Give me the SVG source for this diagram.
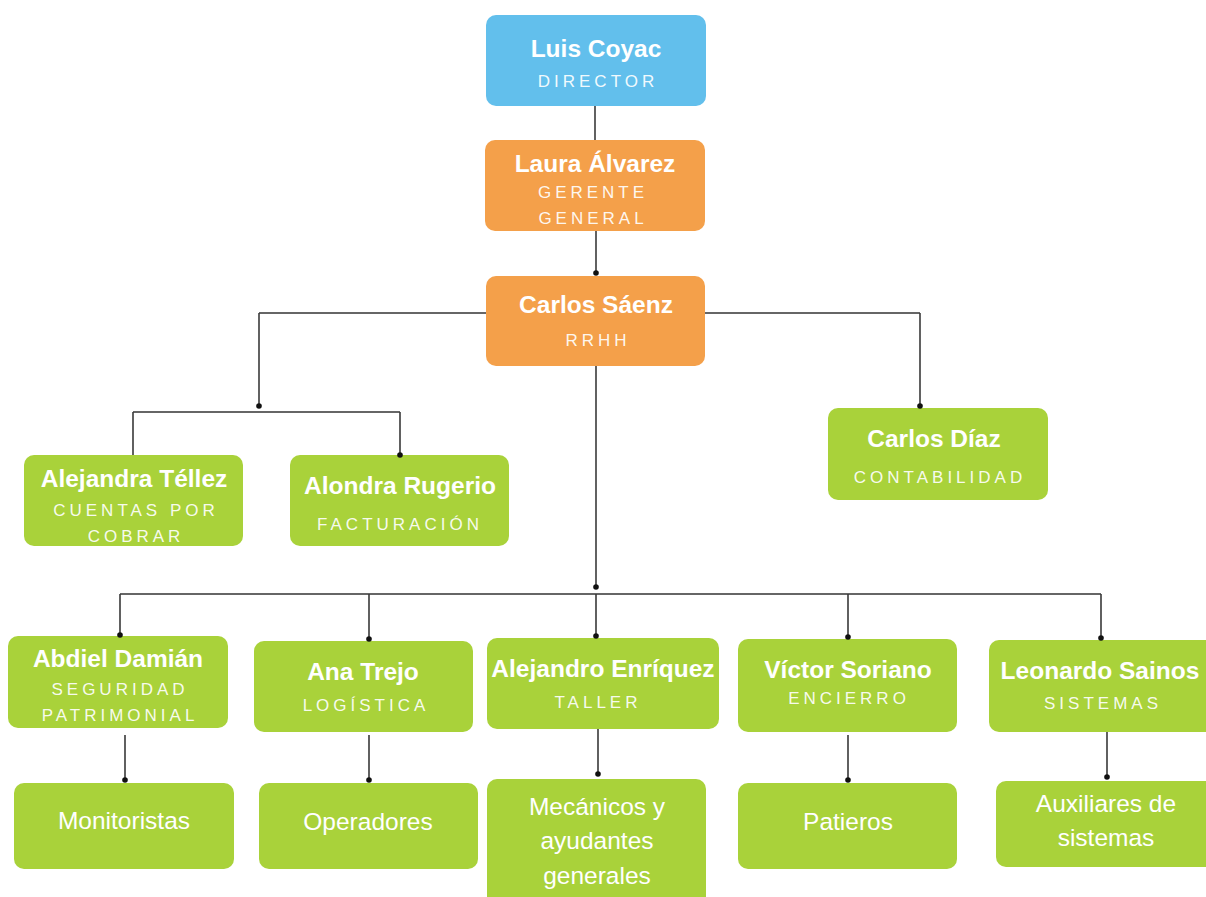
<svg xmlns="http://www.w3.org/2000/svg" width="1206" height="897" viewBox="0 0 1206 897">
<style>
.blue{fill:#62BFEC}
.orange{fill:#F4A04A}
.green{fill:#A9D23A}
.name{font-family:"Liberation Sans",Arial,sans-serif;font-weight:bold;font-size:24.5px;fill:#fff;text-anchor:middle}
.role{font-family:"Liberation Sans",Arial,sans-serif;font-size:17px;letter-spacing:4px;fill:#fff;fill-opacity:.93;text-anchor:middle}
.team{font-family:"Liberation Sans",Arial,sans-serif;font-size:24.5px;fill:#fff;text-anchor:middle}
.ln{fill:none;stroke:#3a3a3a;stroke-width:1.6}
.hl{fill:none;stroke:#666;stroke-width:2}
.dot{fill:#111}
</style>
<rect width="1206" height="897" fill="#fff"/>
<g id="luis">
<rect class="blue" x="486" y="15" width="220" height="91" rx="10"/>
<text class="name" x="596" y="57">Luis Coyac</text>
<text class="role" x="598" y="87">DIRECTOR</text>
</g>
<g id="laura">
<rect class="orange" x="485" y="140" width="220" height="91" rx="10"/>
<text class="name" x="595" y="172">Laura Álvarez</text>
<text class="role" x="593" y="198">GERENTE</text>
<text class="role" x="593" y="224">GENERAL</text>
</g>
<g id="carlos-saenz">
<rect class="orange" x="486" y="276" width="219" height="90" rx="10"/>
<text class="name" x="596" y="313">Carlos Sáenz</text>
<text class="role" x="598" y="346">RRHH</text>
</g>
<g id="alejandra">
<rect class="green" x="24" y="455" width="219" height="91" rx="10"/>
<text class="name" x="134" y="487">Alejandra Téllez</text>
<text class="role" x="136" y="516">CUENTAS POR</text>
<text class="role" x="136" y="542">COBRAR</text>
</g>
<g id="alondra">
<rect class="green" x="290" y="455" width="219" height="91" rx="10"/>
<text class="name" x="400" y="494">Alondra Rugerio</text>
<text class="role" x="400" y="530">FACTURACIÓN</text>
</g>
<g id="carlos-diaz">
<rect class="green" x="828" y="408" width="220" height="92" rx="10"/>
<text class="name" x="934" y="447">Carlos Díaz</text>
<text class="role" x="940" y="483">CONTABILIDAD</text>
</g>
<g id="abdiel">
<rect class="green" x="8" y="636" width="220" height="92" rx="10"/>
<text class="name" x="118" y="667">Abdiel Damián</text>
<text class="role" x="120" y="695">SEGURIDAD</text>
<text class="role" x="120" y="721">PATRIMONIAL</text>
</g>
<g id="ana">
<rect class="green" x="254" y="641" width="219" height="91" rx="10"/>
<text class="name" x="363" y="680">Ana Trejo</text>
<text class="role" x="366" y="711">LOGÍSTICA</text>
</g>
<g id="alejandro">
<rect class="green" x="487" y="638" width="232" height="91" rx="10"/>
<text class="name" x="603" y="677">Alejandro Enríquez</text>
<text class="role" x="598" y="708">TALLER</text>
</g>
<g id="victor">
<rect class="green" x="738" y="639" width="219" height="93" rx="10"/>
<text class="name" x="848" y="678">Víctor Soriano</text>
<text class="role" x="849" y="704">ENCIERRO</text>
</g>
<g id="leonardo">
<rect class="green" x="989" y="640" width="230" height="92" rx="10"/>
<text class="name" x="1100" y="679">Leonardo Sainos</text>
<text class="role" x="1103" y="709">SISTEMAS</text>
</g>
<g id="monitoristas">
<rect class="green" x="14" y="783" width="220" height="86" rx="10"/>
<text class="team" x="124" y="829">Monitoristas</text>
</g>
<g id="operadores">
<rect class="green" x="259" y="783" width="219" height="86" rx="10"/>
<text class="team" x="368" y="830">Operadores</text>
</g>
<g id="mecanicos">
<rect class="green" x="487" y="779" width="219" height="130" rx="10"/>
<text class="team" x="597" y="815">Mecánicos y</text>
<text class="team" x="597" y="849">ayudantes</text>
<text class="team" x="597" y="884">generales</text>
</g>
<g id="patieros">
<rect class="green" x="738" y="783" width="219" height="86" rx="10"/>
<text class="team" x="848" y="830">Patieros</text>
</g>
<g id="auxiliares">
<rect class="green" x="996" y="781" width="225" height="86" rx="10"/>
<text class="team" x="1106" y="812">Auxiliares de</text>
<text class="team" x="1106" y="846">sistemas</text>
</g>
<g id="connectors">
<path class="ln" d="M595,106 V140"/>
<path class="ln" d="M596,231 V273"/>
<path class="hl" d="M486,313 H259"/>
<path class="ln" d="M259,313 V406"/>
<path class="hl" d="M133,412 H400"/>
<path class="ln" d="M133,412 V455 M400,412 V455"/>
<path class="hl" d="M705,313 H920"/>
<path class="ln" d="M920,313 V406"/>
<path class="ln" d="M596,366 V587"/>
<path class="hl" d="M120,594 H1101"/>
<path class="ln" d="M120,594 V635 M369,594 V639 M596,594 V636 M848,594 V637 M1101,594 V638"/>
<path class="ln" d="M125,735 V780 M369,735 V780 M598,729 V774 M848,735 V780 M1107,732 V777"/>
<circle class="dot" cx="596" cy="273" r="2.8"/>
<circle class="dot" cx="259" cy="406" r="2.8"/>
<circle class="dot" cx="400" cy="455" r="2.8"/>
<circle class="dot" cx="920" cy="406" r="2.8"/>
<circle class="dot" cx="596" cy="587" r="2.8"/>
<circle class="dot" cx="120" cy="635" r="2.8"/>
<circle class="dot" cx="369" cy="639" r="2.8"/>
<circle class="dot" cx="596" cy="636" r="2.8"/>
<circle class="dot" cx="848" cy="637" r="2.8"/>
<circle class="dot" cx="1101" cy="638" r="2.8"/>
<circle class="dot" cx="125" cy="780" r="2.8"/>
<circle class="dot" cx="369" cy="780" r="2.8"/>
<circle class="dot" cx="598" cy="774" r="2.8"/>
<circle class="dot" cx="848" cy="780" r="2.8"/>
<circle class="dot" cx="1107" cy="777" r="2.8"/>
</g>
</svg>
